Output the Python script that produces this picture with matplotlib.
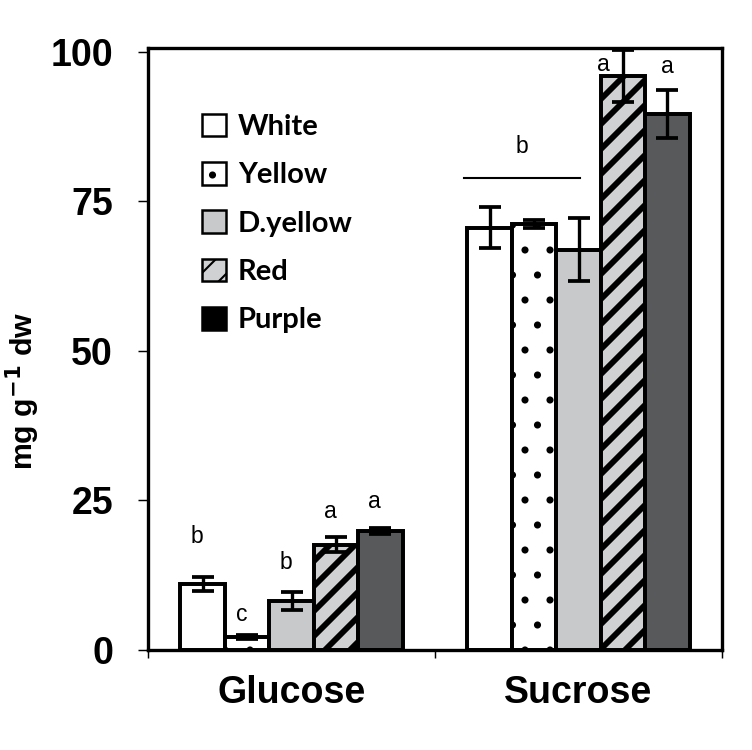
import numpy as np
import matplotlib
matplotlib.use("Agg")
import matplotlib.pyplot as plt
from matplotlib.patches import Patch

# data
groups = ["Glucose", "Sucrose"]
cultivars = ["White", "Yellow", "D.yellow", "Red", "Purple"]
means = {
    "White":    [11.0, 70.6],
    "Yellow":   [2.2, 71.2],
    "D.yellow": [8.2, 66.9],
    "Red":      [17.6, 95.9],
    "Purple":   [19.9, 89.6],
}
errs = {
    "White":    [1.2, 3.4],
    "Yellow":   [0.3, 0.6],
    "D.yellow": [1.5, 5.3],
    "Red":      [1.3, 4.3],
    "Purple":   [0.5, 4.0],
}
# significance letters and their heights
glc_letters = ["b", "c", "b", "a", "a"]
glc_letter_y = [18.9, 6.0, 14.7, 23.2, 24.8]
suc_letters = ["a", "a"]
suc_letter_y = [97.8, 97.5]
suc_group_letter = "b"
suc_group_letter_y = 84.1
suc_group_line_y = 78.8

styles = {
    "White":    dict(color="white", hatch=None),
    "Yellow":   dict(color="white", hatch="."),
    "D.yellow": dict(color="#c8c9cb", hatch=None),
    "Red":      dict(color="#d0d1d3", hatch="//"),
    "Purple":   dict(color="#58595b", hatch=None),
}
legend_colors = {"Purple": "black"}

plt.rcParams["font.family"] = ["Liberation Sans", "DejaVu Sans"]
plt.rcParams["hatch.color"] = "black"

fig = plt.figure(figsize=(752 / 150, 750 / 150), dpi=150)
ax = fig.add_axes([148 / 752, 1 - 650 / 750, 574 / 752, 602 / 750])

x = np.arange(len(groups))
w = 0.155
offsets = (np.arange(len(cultivars)) - 2) * w

for i, c in enumerate(cultivars):
    st = styles[c]
    lw_hatch = 2.8 if c == "Red" else 1.0
    with plt.rc_context({"hatch.linewidth": lw_hatch}):
        ax.bar(x + offsets[i], means[c], w, color=st["color"], hatch=st["hatch"],
               edgecolor="black", linewidth=1.9, label=c, zorder=2)
    ax.errorbar(x + offsets[i], means[c], yerr=errs[c], fmt="none", ecolor="black",
                elinewidth=1.6, capsize=5.5, capthick=1.8, zorder=3)

# letters over glucose bars
for i, (lt, ly) in enumerate(zip(glc_letters, glc_letter_y)):
    ax.text(x[0] + offsets[i] - 0.02, ly, lt, ha="center", va="center", fontsize=11)
# letters over sucrose red / purple
ax.text(x[1] + offsets[3] - 0.07, suc_letter_y[0], suc_letters[0], ha="center", va="center", fontsize=11)
ax.text(x[1] + offsets[4], suc_letter_y[1], suc_letters[1], ha="center", va="center", fontsize=11)
# group letter for the first three sucrose bars
x0 = x[1] + offsets[0] - w / 2 - 0.01
x1 = x[1] + offsets[2] + 0.005
ax.plot([x0, x1], [suc_group_line_y, suc_group_line_y], color="black", lw=1.0)
ax.text((x0 + x1) / 2, suc_group_letter_y, suc_group_letter, ha="center", va="center", fontsize=11)

ax.set_xlim(-0.5, 1.5)
ax.set_ylim(0, 100.6)
ax.set_yticks([0, 25, 50, 75, 100])
ax.set_yticklabels(["0", "25", "50", "75", "100"], fontsize=18, fontweight="bold")
ax.set_xticks(x)
ax.set_xticklabels(groups, fontsize=18, fontweight="bold")
ax.set_xticks([-0.5, 0.5, 1.5], minor=True)
ax.tick_params(axis="x", which="major", length=0, pad=12)
ax.tick_params(axis="x", which="minor", length=4, width=0.7, direction="out")
ax.tick_params(axis="y", length=4.8, width=0.7, direction="out", pad=12)
for sp in ax.spines.values():
    sp.set_linewidth(1.6)
ax.set_ylabel("mg g$^{\\mathbf{-1}}$ dw", fontsize=14.5, fontweight="bold")
ax.yaxis.set_label_coords(-0.185, 0.43)

handles = []
for c in cultivars:
    lw_hatch = 2.6 if c == "Red" else 1.0
    with plt.rc_context({"hatch.linewidth": lw_hatch}):
        handles.append(Patch(facecolor=legend_colors.get(c, styles[c]["color"]),
                             hatch=styles[c]["hatch"], edgecolor="black", linewidth=1.2))
ax.legend(handles, cultivars, loc="upper left", bbox_to_anchor=(0.059, 0.925),
          frameon=False, prop={"family": "Lato", "weight": "bold", "size": 14},
          handlelength=0.82, handleheight=0.82, labelspacing=0.75, handletextpad=0.4,
          borderaxespad=0.3)

fig.savefig("out.png", dpi=150)
